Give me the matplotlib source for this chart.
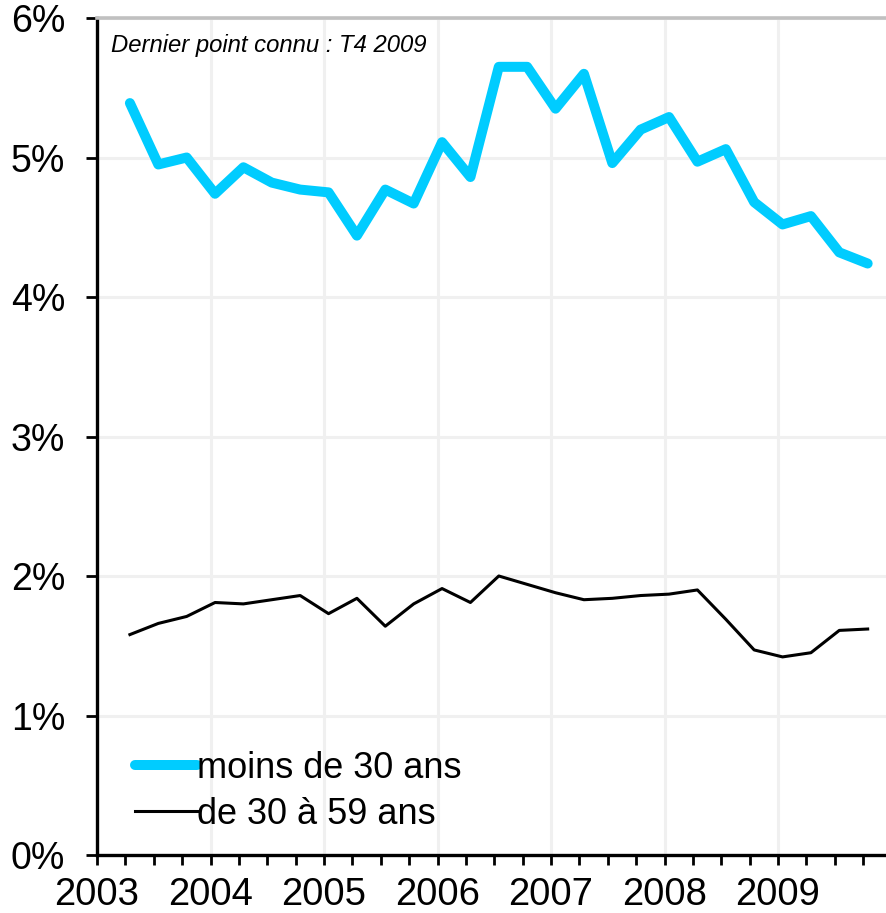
import matplotlib.pyplot as plt
from matplotlib.ticker import FixedLocator, FuncFormatter

plt.rcParams['font.family'] = ['Liberation Sans', 'DejaVu Sans']

# Data: unemployment-like rates (%) by quarter, T2 2003 -> T4 2009
quarters = ['2003T2', '2003T3', '2003T4',
            '2004T1', '2004T2', '2004T3', '2004T4',
            '2005T1', '2005T2', '2005T3', '2005T4',
            '2006T1', '2006T2', '2006T3', '2006T4',
            '2007T1', '2007T2', '2007T3', '2007T4',
            '2008T1', '2008T2', '2008T3', '2008T4',
            '2009T1', '2009T2', '2009T3', '2009T4']
moins_30 = [5.39, 4.95, 5.00, 4.74, 4.93, 4.82, 4.77, 4.75, 4.44, 4.77,
            4.67, 5.11, 4.86, 5.65, 5.65, 5.35, 5.60, 4.96, 5.20, 5.29,
            4.97, 5.06, 4.68, 4.52, 4.58, 4.32, 4.24]
de_30_59 = [1.58, 1.66, 1.71, 1.81, 1.80, 1.83, 1.86, 1.73, 1.84, 1.64,
            1.80, 1.91, 1.81, 2.00, 1.94, 1.88, 1.83, 1.84, 1.86, 1.87,
            1.90, 1.69, 1.47, 1.42, 1.45, 1.61, 1.62]
years = [2003, 2004, 2005, 2006, 2007, 2008, 2009]
y_ticks = [0, 1, 2, 3, 4, 5, 6]
note = 'Dernier point connu : T4 2009'

# quarter label -> position on a yearly axis
x = [int(q[:4]) + (int(q[-1]) - 1) / 4 + 0.04 for q in quarters]

fig = plt.figure(figsize=(8.86, 9.13), dpi=100)
ax = fig.add_axes([97 / 886, 58 / 913, 794.5 / 886, 837 / 913])

ax.plot(x, moins_30, color='#00CCFF', lw=7.2, solid_capstyle='round',
        solid_joinstyle='round', label='moins de 30 ans', zorder=3)
ax.plot(x, de_30_59, color='black', lw=2.2, solid_joinstyle='round',
        label='de 30 à 59 ans', zorder=3)

ax.set_xlim(2003, 2010)
ax.set_ylim(0, 6)

ax.xaxis.set_major_locator(FixedLocator(years))
ax.xaxis.set_minor_locator(FixedLocator([2003 + i / 4 for i in range(28)]))
ax.yaxis.set_major_locator(FixedLocator(y_ticks))
ax.yaxis.set_major_formatter(FuncFormatter(lambda v, p: f'{v:.0f}%'))

ax.tick_params(axis='x', which='both', direction='out', length=7, width=2,
               labelsize=27.5, pad=9)
ax.tick_params(axis='y', which='major', direction='out', length=8, width=2,
               labelsize=27, pad=15)

ax.grid(True, which='major', color='#f0f0f0', lw=2.2)
ax.set_axisbelow(True)

for side in ['left', 'bottom']:
    ax.spines[side].set_linewidth(2.4)
ax.spines['top'].set_color('#c0c0c0')
ax.spines['top'].set_linewidth(2.6)
ax.spines['right'].set_visible(False)

ax.text(0.017, 0.9594, note, transform=ax.transAxes, fontsize=17.2,
        style='italic', va='baseline', ha='left')

ax.legend(loc='upper left', bbox_to_anchor=(0.048, 0.1246), frameon=False,
          fontsize=26, handlelength=1.7, handletextpad=0.0,
          labelspacing=0.31, borderpad=0, borderaxespad=0)

plt.savefig('out.png', dpi=100)
